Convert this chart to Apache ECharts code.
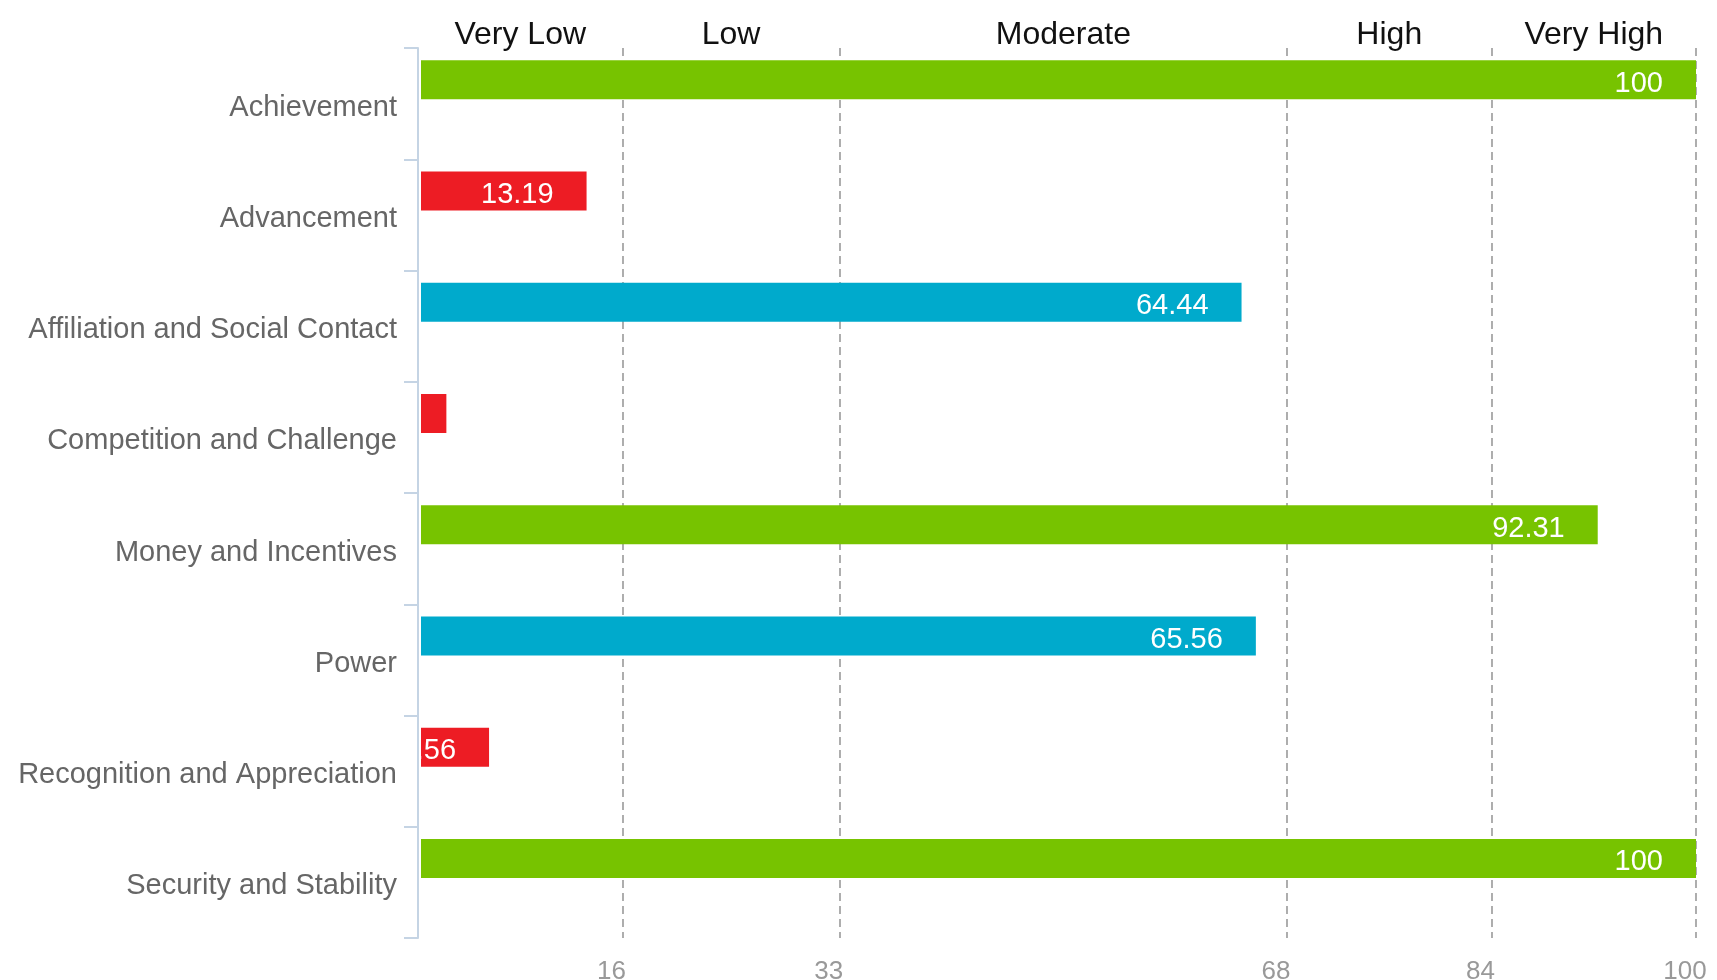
<!DOCTYPE html>
<html>
<head>
<meta charset="utf-8">
<script src="https://cdn.jsdelivr.net/npm/echarts@6/dist/echarts.min.js"></script>
<style>
  html, body { margin: 0; padding: 0; background: #fff; }
  #chart { width: 1717px; height: 980px; }
</style>
</head>
<body>
<div id="chart"></div>
<script>
const categories = [
  'Achievement',
  'Advancement',
  'Affiliation and Social Contact',
  'Competition and Challenge',
  'Money and Incentives',
  'Power',
  'Recognition and Appreciation',
  'Security and Stability'
];
const scores = [100, 13.19, 64.44, 2.22, 92.31, 65.56, 5.56, 100];
const bandEdges = [0, 16, 33, 68, 84, 100];
const bandNames = ['Very Low', 'Low', 'Moderate', 'High', 'Very High'];
const tickValues = [16, 33, 68, 84, 100];

const levelColors = ['#ED1C24', '#ED1C24', '#00AACC', '#77C300', '#77C300'];
const FONT = '"Liberation Sans", Arial, Helvetica, sans-serif';
const GRID = { left: 418, right: 21, top: 48, bottom: 42 };

function bandIndex(v) {
  for (let i = 0; i < bandNames.length; i++) {
    if (v < bandEdges[i + 1]) return i;
  }
  return bandNames.length - 1;
}
const bandCenters = bandNames.map((_, i) => (bandEdges[i] + bandEdges[i + 1]) / 2);

const chart = echarts.init(document.getElementById('chart'), null, { renderer: 'canvas' });

const axisColor = '#c5d4e4';

const option = {
  backgroundColor: '#fff',
  animation: false,
  textStyle: { fontFamily: FONT },
  grid: {
    left: GRID.left, right: GRID.right, top: GRID.top, bottom: GRID.bottom,
    containLabel: false, outerBoundsMode: 'none'
  },
  xAxis: [
    {
      type: 'value', position: 'bottom', min: 0, max: 100,
      axisLine: { show: false },
      axisTick: { show: false, customValues: tickValues },
      axisLabel: {
        customValues: tickValues,
        color: '#999', fontSize: 26, fontFamily: FONT, margin: 21,
        padding: [0, 22, 0, 0]
      },
      splitLine: {
        show: true,
        lineStyle: { color: '#9a9a9a', width: 1.6, type: [8, 5] }
      }
    },
    {
      type: 'value', position: 'top', min: 0, max: 100,
      axisLine: { show: false },
      axisTick: { show: false, customValues: bandCenters },
      splitLine: { show: false },
      axisLabel: {
        customValues: bandCenters,
        formatter: function (v) {
          const i = bandCenters.indexOf(v);
          return i >= 0 ? bandNames[i] : '';
        },
        color: '#111', fontSize: 32, fontFamily: FONT, margin: -3
      }
    }
  ],
  yAxis: {
    type: 'category', data: categories, inverse: true, z: 5,
    axisLine: { show: true, lineStyle: { color: axisColor, width: 2 } },
    axisTick: { show: true, length: 14, lineStyle: { color: axisColor, width: 2 } },
    axisLabel: {
      color: '#666', fontSize: 29, fontFamily: FONT, margin: 21,
      verticalAlign: 'top', lineHeight: 8
    },
    splitLine: { show: false }
  },
  series: [
    {
      type: 'bar', xAxisIndex: 0, z: 2,
      barWidth: 39, barGap: '23%',
      data: scores.map(v => ({ value: v, itemStyle: { color: levelColors[bandIndex(v)] } })),
      label: {
        show: true, position: 'insideRight', distance: 33, offset: [0, 4],
        color: '#fff', fontSize: 29, fontFamily: FONT,
        formatter: '{c}'
      }
    },
    {
      type: 'bar', xAxisIndex: 0, z: 2,
      barWidth: 39, barGap: '23%',
      data: scores.map(() => '-')
    }
  ],
  graphic: [
    {
      type: 'rect', z: 3, silent: true,
      shape: { x: 0, y: 0, width: GRID.left + 3, height: 980 },
      style: { fill: '#fff' }
    }
  ]
};

chart.setOption(option);
</script>
</body>
</html>
